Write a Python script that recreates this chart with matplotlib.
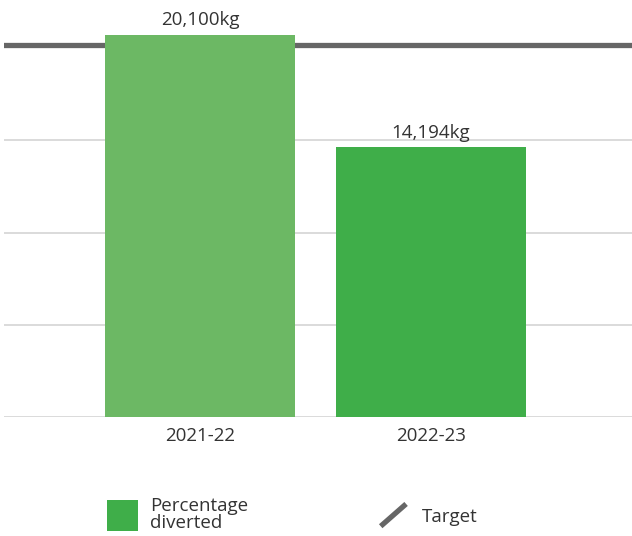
#!/usr/bin/env python3
"""Waste diverted per year against the target, drawn as a two-bar chart."""
import matplotlib
matplotlib.use("Agg")
import matplotlib.pyplot as plt
from matplotlib.legend_handler import HandlerBase
from matplotlib.lines import Line2D
from matplotlib.patches import Patch, Rectangle

years = ["2021-22", "2022-23"]
diverted_kg = [20100, 14194]
target_kg = 19570
grid_step = 4850

bar_colors = ["#6cb864", "#3fae49"]
target_color = "#666666"
text_color = "#333333"
font_size = 13.5

plt.rcParams["font.family"] = ["Open Sans", "DejaVu Sans"]


class DiagonalLineHandler(HandlerBase):
    """Legend key drawn as a short rising stroke instead of a flat line."""

    def create_artists(self, legend, orig_handle, xdescent, ydescent,
                       width, height, fontsize, trans):
        mid = -ydescent + height / 2
        line = Line2D([-xdescent + 1, -xdescent + width - 3],
                      [mid - width * 0.36, mid + width * 0.36],
                      color=orig_handle.get_color(),
                      linewidth=orig_handle.get_linewidth(),
                      solid_capstyle="butt", transform=trans)
        return [line]


class SquarePatchHandler(HandlerBase):
    """Legend key drawn as a full square, centred on the label block."""

    def create_artists(self, legend, orig_handle, xdescent, ydescent,
                       width, height, fontsize, trans):
        mid = -ydescent + height / 2
        square = Rectangle((-xdescent, mid - width / 2), width, width,
                           facecolor=orig_handle.get_facecolor(),
                           edgecolor="none", transform=trans)
        return [square]


fig = plt.figure(figsize=(6.32, 5.36), dpi=100)
ax = fig.add_axes([4 / 632, 119 / 536, 628 / 632, 417 / 536])

x = range(len(years))
bars = ax.bar(x, diverted_kg, width=0.822, color=bar_colors, zorder=2)
ax.axhline(target_kg, color=target_color, linewidth=3.8, zorder=1)

for rect, val in zip(bars, diverted_kg):
    ax.annotate(f"{val:,}kg", (rect.get_x() + rect.get_width() / 2, val),
                xytext=(0, 4), textcoords="offset points",
                ha="center", va="bottom", fontsize=font_size, color=text_color,
                annotation_clip=False)

ax.set_xlim(-0.848, 1.870)
ax.set_ylim(0, 417 * 20100 / 382)
ax.set_yticks([grid_step * i for i in range(4)])
ax.yaxis.grid(True, color="#d4d4d4", linewidth=1.2, zorder=0)
ax.set_axisbelow(True)
ax.tick_params(axis="y", left=False, labelleft=False)
ax.set_xticks(list(x))
ax.set_xticklabels(years, fontsize=font_size, color=text_color)
ax.tick_params(axis="x", length=0, pad=7)
for side in ax.spines.values():
    side.set_visible(False)

handles = [Patch(facecolor=bar_colors[1]),
           Line2D([], [], color=target_color, linewidth=3.8)]
leg = fig.legend(handles, ["Percentage\ndiverted", "Target"],
                 handler_map={Patch: SquarePatchHandler(),
                              Line2D: DiagonalLineHandler()},
                 loc="center left", bbox_to_anchor=(107 / 632, 1 - 514.5 / 536),
                 ncol=2, frameon=False, fontsize=font_size, labelcolor=text_color,
                 borderpad=0, borderaxespad=0,
                 handlelength=1.65, handleheight=1.0, handletextpad=0.64,
                 columnspacing=7.0)
for t in leg.get_texts():
    t.set_linespacing(0.95)

fig.savefig("out.png", dpi=100)
plt.close(fig)
